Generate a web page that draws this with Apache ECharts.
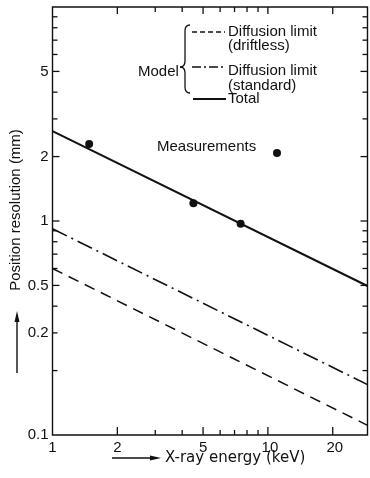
<!DOCTYPE html>
<html><head><meta charset="utf-8">
<script src="https://cdn.jsdelivr.net/npm/echarts@6/dist/echarts.min.js"></script>
<style>html,body{margin:0;padding:0;background:#fff}#c{width:370px;height:478px}</style>
</head><body><div id="c"></div>
<script>
// ---- data ----
const energyRange = [1, 29];          // keV (x, log)
const resolutionRange = [0.1, 10];    // mm (y, log)
const totalModel = [[1, 2.63], [29, 0.497]];
const standardLimit = [[1, 0.92], [29, 0.172]];
const driftlessLimit = [[1, 0.60], [29, 0.111]];
const measurements = [[1.48, 2.29], [4.51, 1.21], [7.47, 0.97]];
const xMajorTicks = [2, 5, 10, 20];
const xMinorTicks = [3, 4, 6, 7, 8, 9];
const xTickLabels = [[1, '1'], [2, '2'], [5, '5'], [10, '10'], [20, '20']];
const yMajorTicks = [0.5, 1, 2, 5];
const yMinorTicks = [0.2, 0.3, 0.4, 0.6, 0.7, 0.8, 0.9, 3, 4, 6, 7, 8, 9];
const yTickLabels = [[0.1, '0.1'], [0.3, '0.2'], [0.5, '0.5'], [1, '1'], [2, '2'], [5, '5']];

const INK = '#111';
const FONT = '"Liberation Sans", Arial, sans-serif';
const chart = echarts.init(document.getElementById('c'), null, {renderer: 'canvas'});

chart.setOption({
  animation: false,
  backgroundColor: '#fff',
  grid: {left: 52.5, right: 2.5, top: 7, bottom: 43, show: true, borderColor: INK, borderWidth: 1.4, backgroundColor: 'transparent'},
  xAxis: {type: 'log', logBase: 10, min: energyRange[0], max: energyRange[1],
    axisLine: {show: false}, axisTick: {show: false}, axisLabel: {show: false}, splitLine: {show: false}},
  yAxis: {type: 'log', logBase: 10, min: resolutionRange[0], max: resolutionRange[1],
    axisLine: {show: false}, axisTick: {show: false}, axisLabel: {show: false}, splitLine: {show: false}},
  series: [
    {name: 'Diffusion limit (driftless)', type: 'line', data: driftlessLimit, symbol: 'none',
      lineStyle: {color: INK, width: 1.5, type: [11, 7]}},
    {name: 'Diffusion limit (standard)', type: 'line', data: standardLimit, symbol: 'none',
      lineStyle: {color: INK, width: 1.6, type: [16, 5, 2, 5]}},
    {name: 'Total', type: 'line', data: totalModel, symbol: 'none',
      lineStyle: {color: INK, width: 2}},
    {name: 'Measurements', type: 'scatter', data: measurements, symbol: 'circle', symbolSize: 8,
      itemStyle: {color: INK, opacity: 1}}
  ]
});

const px = v => chart.convertToPixel({xAxisIndex: 0}, v);
const py = v => chart.convertToPixel({yAxisIndex: 0}, v);
const x0 = px(energyRange[0]), x1 = px(energyRange[1]);
const yTop = py(resolutionRange[1]), yBot = py(resolutionRange[0]);

const g = [];
const ln = (a, b, c, d, w, dash) => g.push({type: 'line', shape: {x1: a, y1: b, x2: c, y2: d},
  style: {stroke: INK, lineWidth: w || 1.3, lineDash: dash || null}, silent: true});
const bz = (a, b, cx, cy, c, d) => g.push({type: 'bezierCurve', shape: {x1: a, y1: b, cpx1: cx, cpy1: cy, x2: c, y2: d},
  style: {stroke: INK, lineWidth: 1.3, fill: null}, silent: true});
const txt = (x, y, t, opt) => g.push(Object.assign({type: 'text', x: x, y: y, silent: true,
  style: Object.assign({text: t, fill: INK, font: '15px ' + FONT, textAlign: 'left', textVerticalAlign: 'middle'}, (opt && opt.style) || {})}, (opt && opt.el) || {}));

// x ticks (bottom & top, pointing inward)
xMajorTicks.forEach(v => { const x = px(v); ln(x, yBot, x, yBot - 8); ln(x, yTop, x, yTop + 7); });
xMinorTicks.forEach(v => { const x = px(v); ln(x, yBot, x, yBot - 5); ln(x, yTop, x, yTop + 5); });
// y ticks (left & right, pointing inward)
yMajorTicks.forEach(v => { const y = py(v); ln(x0, y, x0 + 7, y); ln(x1, y, x1 - 7, y); });
yMinorTicks.forEach(v => { const y = py(v); ln(x0, y, x0 + 5, y); ln(x1, y, x1 - 5, y); });

// tick labels
xTickLabels.forEach(([v, t]) => txt(px(v) + (v >= 10 ? 2 : 0), yBot + 13, t, {style: {textAlign: 'center'}}));
yTickLabels.forEach(([v, t]) => txt(x0 - 4, py(v), t, {style: {textAlign: 'right'}}));

// axis titles with arrows
txt(16, 210, 'Position resolution (mm)', {style: {textAlign: 'center'}, el: {rotation: Math.PI / 2}});
ln(17, 373, 17, 320, 1.4);
g.push({type: 'polygon', shape: {points: [[17, 311], [14.5, 322], [19.5, 322]]}, style: {fill: INK}, silent: true});
txt(165, 458, 'X-ray energy (keV)', {style: {font: '15px "DejaVu Sans", sans-serif'}});
ln(112, 458, 152, 458, 1.4);
g.push({type: 'polygon', shape: {points: [[161, 458], [150, 455.5], [150, 460.5]]}, style: {fill: INK}, silent: true});

// legend
txt(138, 72, 'Model');
bz(190, 25, 185, 25, 185, 31);
ln(185, 31, 185, 61);
bz(185, 61, 185, 67, 180, 67);
bz(180, 67, 185, 67, 185, 73);
ln(185, 73, 185, 87);
bz(185, 87, 185, 93, 190, 93);
ln(192, 32, 225, 32, 1.3, [5, 3]);
txt(228, 32, 'Diffusion limit');
txt(228, 46, '(driftless)');
ln(192, 67, 226, 67, 1.4, [9, 3, 2, 3]);
txt(228, 71, 'Diffusion limit');
txt(228, 86, '(standard)');
ln(193, 99, 226, 99, 1.8);
txt(228, 99, 'Total');
txt(157, 147, 'Measurements');
g.push({type: 'circle', shape: {cx: 277, cy: 153, r: 4}, style: {fill: INK}, silent: true});

chart.setOption({graphic: g});
</script>
</body></html>
